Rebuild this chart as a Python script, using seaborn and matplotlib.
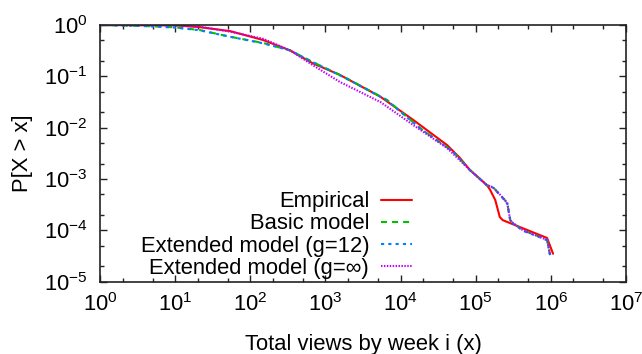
import numpy as np
import pandas as pd
import matplotlib
matplotlib.use("Agg")
import matplotlib.pyplot as plt
from matplotlib.ticker import LogLocator, NullFormatter
import seaborn as sns

# ---- data ----
emp_x = [1, 4, 10, 21, 54, 148, 339, 676, 1550, 5400, 14800, 41700, 61700, 83200,
         141000, 155000, 182000, 209000, 229000, 891000, 1070000]
emp_y = [1, 0.99, 0.986, 0.91, 0.76, 0.51, 0.32, 0.18, 0.107, 0.040, 0.0141, 0.00457,
         0.00257, 0.00151, 0.00076, 0.00062, 0.00039, 0.000182, 0.000158, 7.1e-5, 3.5e-5]

basic_x = [1, 4, 10, 21, 54, 148, 339, 676, 1550, 2350, 6600, 18200, 50100, 83200,
           141000, 170000, 224000, 263000, 288000, 316000, 427000, 724000, 891000, 977000]
basic_y = [1, 0.955, 0.90, 0.80, 0.59, 0.447, 0.32, 0.19, 0.107, 0.078, 0.0347, 0.0098,
           0.0034, 0.00151, 0.00076, 0.00069, 0.00045, 0.00034, 0.000158, 0.000138,
           0.0001, 7.4e-5, 6.5e-5, 3.3e-5]

ext12_x = [1, 4, 10, 21, 54, 148, 339, 676, 1550, 2350, 6600, 18200, 50100, 83200,
           141000, 170000, 224000, 263000, 288000, 316000, 427000, 724000, 891000, 977000]
ext12_y = [1, 0.95, 0.89, 0.79, 0.59, 0.44, 0.32, 0.19, 0.105, 0.077, 0.0340, 0.0097,
           0.0034, 0.00150, 0.00075, 0.00068, 0.00044, 0.00033, 0.000160, 0.000135,
           0.000098, 7.3e-5, 6.4e-5, 3.3e-5]

extinf_x = [1, 4, 10, 21, 54, 148, 339, 676, 1550, 5400, 14800, 41700, 83200,
            141000, 170000, 224000, 263000, 288000, 316000, 427000, 724000, 891000, 977000]
extinf_y = [1, 0.99, 0.98, 0.93, 0.74, 0.54, 0.32, 0.166, 0.078, 0.0316, 0.0112, 0.0040,
            0.00151, 0.00076, 0.00069, 0.00045, 0.00034, 0.000158, 0.000138, 0.0001,
            7.4e-5, 6.5e-5, 3.3e-5]

labels = ["Empirical", "Basic model", "Extended model (g=12)", "Extended model (g=\u221e)"]
colors = ["#ff0000", "#00c000", "#0080ff", "#c000ff"]

sns.set_style("ticks")
plt.rcParams["font.family"] = ["Liberation Sans", "DejaVu Sans"]
plt.rcParams["mathtext.fontset"] = "custom"
plt.rcParams["mathtext.rm"] = "Liberation Sans"
plt.rcParams["mathtext.it"] = "Liberation Sans"
plt.rcParams["mathtext.default"] = "regular"
plt.rcParams["text.color"] = "black"
plt.rcParams["axes.labelcolor"] = "black"
plt.rcParams["xtick.labelcolor"] = "black"
plt.rcParams["ytick.labelcolor"] = "black"

FS = 15.8

fig = plt.figure(figsize=(6.42, 3.54), dpi=100)
ax = fig.add_axes([100 / 642, 1 - 281.7 / 354, 526 / 642, 256.7 / 354])

series = [(emp_x, emp_y), (basic_x, basic_y), (ext12_x, ext12_y), (extinf_x, extinf_y)]
styles = [None, (2.9, 2.4), (1.5, 2.0), (0.7, 0.7)]

for (xs, ys), lab, col, st in zip(series, labels, colors, styles):
    df = pd.DataFrame({"x": xs, "y": ys})
    sns.lineplot(data=df, x="x", y="y", ax=ax, color=col, linewidth=1.5,
                 sort=False, estimator=None, label=lab)
    l = ax.get_lines()[-1]
    if st is not None:
        l.set_dashes(st)

ax.set_xscale("log")
ax.set_yscale("log")
ax.set_xlim(1, 1e7)
ax.set_ylim(1e-5, 1)

ax.xaxis.set_major_locator(LogLocator(base=10, numticks=20))
ax.yaxis.set_major_locator(LogLocator(base=10, numticks=20))
ax.xaxis.set_minor_locator(LogLocator(base=10, subs=[2, 5], numticks=20))
ax.yaxis.set_minor_locator(LogLocator(base=10, subs=[2, 5], numticks=20))
ax.xaxis.set_minor_formatter(NullFormatter())
ax.yaxis.set_minor_formatter(NullFormatter())

ax.tick_params(which="both", direction="in", top=True, right=True, color="#222222")
ax.tick_params(which="major", length=5, width=1.0, labelsize=FS)
ax.tick_params(which="minor", length=3, width=1.0)
ax.tick_params(axis="y", which="major", pad=9)
ax.tick_params(axis="x", which="major", pad=8)
for s in ax.spines.values():
    s.set_linewidth(1.2)
    s.set_color("#222222")

ax.set_xlabel("Total views by week i (x)", fontsize=FS, labelpad=13)
ax.set_ylabel("P[X > x]", fontsize=FS, labelpad=8)

leg = ax.legend(loc="center right", bbox_to_anchor=(412 / 642, 1 - 235 / 354),
                bbox_transform=fig.transFigure, frameon=False, markerfirst=False,
                fontsize=FS, handlelength=1.4, handletextpad=0.55, labelspacing=0.05,
                borderpad=0, borderaxespad=0)
for t in leg.get_texts():
    t.set_ha("right")
leg._legend_box.align = "right"

fig.savefig("out.png", dpi=100)
